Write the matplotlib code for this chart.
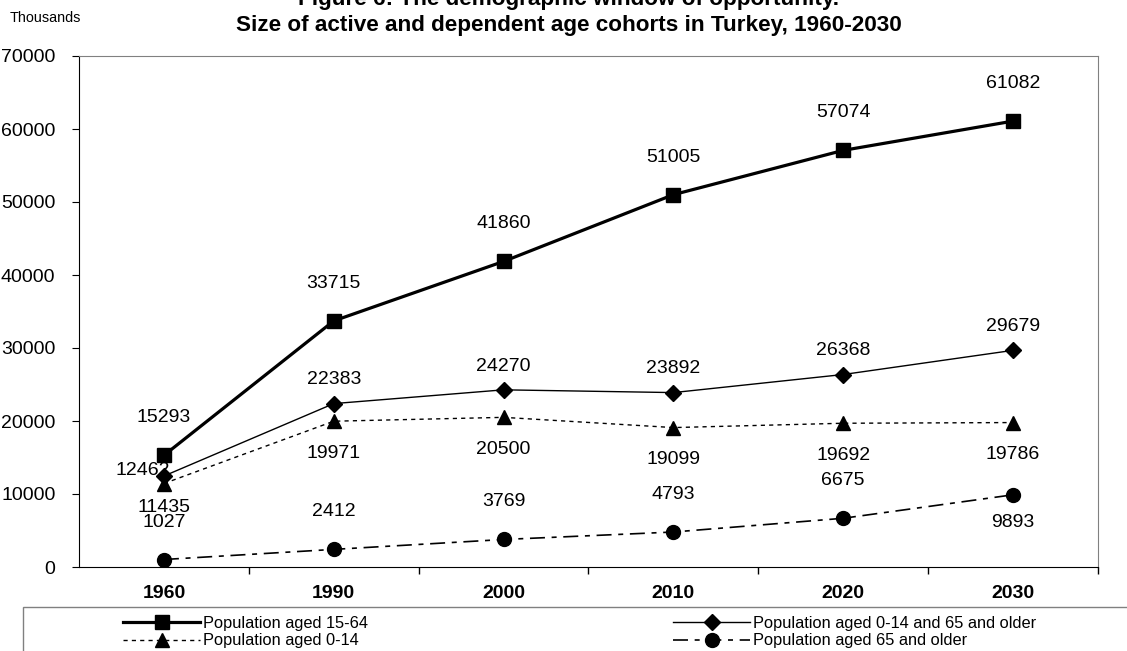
import matplotlib
matplotlib.use('Agg')
import matplotlib.pyplot as plt
from matplotlib.patches import Rectangle
from matplotlib.ticker import FixedLocator

plt.rcParams['font.family'] = ['Liberation Sans', 'DejaVu Sans']

years = ['1960', '1990', '2000', '2010', '2020', '2030']
pop_15_64 = [15293, 33715, 41860, 51005, 57074, 61082]
pop_dep = [12462, 22383, 24270, 23892, 26368, 29679]
pop_0_14 = [11435, 19971, 20500, 19099, 19692, 19786]
pop_65 = [1027, 2412, 3769, 4793, 6675, 9893]

W, H = 1127, 651
fig = plt.figure(figsize=(W / 100, H / 100), dpi=100)
ax = fig.add_axes([79 / W, 1 - 567 / H, (1098 - 79) / W, (567 - 56) / H])

x = list(range(len(years)))

l1, = ax.plot(x, pop_15_64, color='black', lw=2.3, marker='s', ms=10)
l2, = ax.plot(x, pop_dep, color='black', lw=1.0, marker='D', ms=8)
l3, = ax.plot(x, pop_0_14, color='black', lw=1.0, ls=(0, (3, 3)), marker='^', ms=10)
l4, = ax.plot(x, pop_65, color='black', lw=1.2, ls=(0, (9, 4, 3, 4)), marker='o', ms=10)

lab = dict(ha='center', va='center', fontsize=14, textcoords='offset points')
for i, v in enumerate(pop_15_64):
    ax.annotate(str(v), (i, v), xytext=(0, 27), **lab)
for i, v in enumerate(pop_dep):
    off = (-15, 4) if i == 0 else (0, 17)
    ax.annotate(str(v), (i, v), xytext=off, **lab)
for i, v in enumerate(pop_0_14):
    off = (0, -17) if i == 0 else (0, -23)
    ax.annotate(str(v), (i, v), xytext=off, **lab)
for i, v in enumerate(pop_65):
    off = (0, -20) if i == len(pop_65) - 1 else (0, 27)
    ax.annotate(str(v), (i, v), xytext=off, **lab)

ax.set_xlim(-0.5, len(years) - 0.5)
ax.set_ylim(0, 70000)
ax.set_yticks(range(0, 70001, 10000))
ax.set_xticks(x)
ax.set_xticklabels(years, fontweight='bold', fontsize=14)
ax.xaxis.set_minor_locator(FixedLocator([i + 0.5 for i in x]))
ax.tick_params(axis='x', which='major', length=0, pad=13)
ax.tick_params(axis='x', which='minor', length=5, direction='out', width=1)
ax.tick_params(axis='y', length=5, direction='out', labelsize=14, pad=12)
for s in ['left', 'bottom']:
    ax.spines[s].set_color('black')
for s in ['top', 'right']:
    ax.spines[s].set_color('#808080')

fig.text(10 / W, 1 - 18 / H, 'Thousands', fontsize=10.4, ha='left', va='center')
fig.text(569 / W, 1 + 1 / H, 'Figure 6: The demographic window of opportunity.',
         fontsize=16.2, fontweight='bold', ha='center', va='center')
fig.text(569 / W, 1 - 25 / H, 'Size of active and dependent age cohorts in Turkey, 1960-2030',
         fontsize=16.2, fontweight='bold', ha='center', va='center')

fig.add_artist(Rectangle((23 / W, -0.05), 1.1, 1 - 607 / H + 0.05, transform=fig.transFigure,
                         facecolor='none', edgecolor='#808080', lw=1))
fig.legend([l1, l3, l2, l4],
           ['Population aged 15-64', 'Population aged 0-14',
            'Population aged 0-14 and 65 and older', 'Population aged 65 and older'],
           ncol=2, loc='upper left', bbox_to_anchor=(123 / W, 1 - 616 / H), frameon=False,
           prop={'size': 11.8}, handlelength=4.7, handletextpad=0.2,
           columnspacing=18.6, labelspacing=0.15, borderpad=0, borderaxespad=0)

fig.savefig('out.png', dpi=100)
